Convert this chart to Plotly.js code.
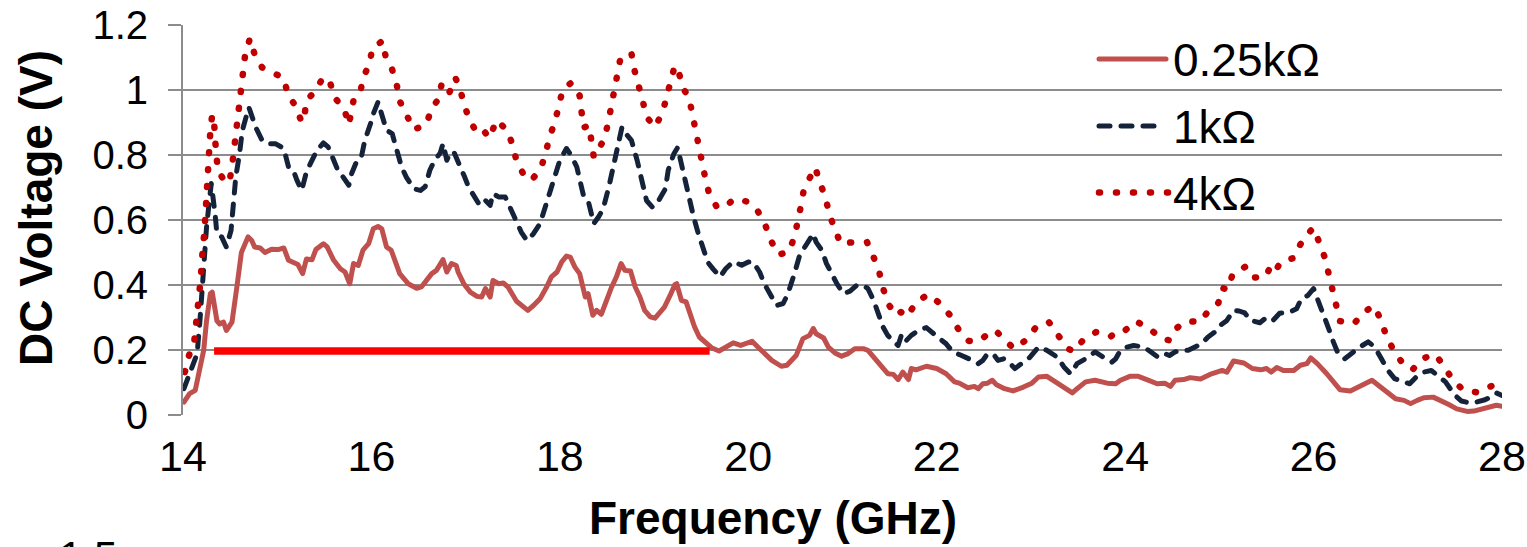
<!DOCTYPE html>
<html>
<head>
<meta charset="utf-8">
<script src="https://cdn.plot.ly/plotly-3.0.1.min.js"></script>
<style>
  html, body { margin: 0; padding: 0; background: #fff; }
  #chart { width: 1527px; height: 547px; }
  .scatterlayer .trace .js-line { stroke-linejoin: round; }
  .scatterlayer .trace:nth-child(-n+3) .js-line { stroke-linecap: round; }
  .shapelayer path { stroke-linecap: round; }
</style>
</head>
<body>
<div id="chart"></div>
<script>
// ---------- data ----------
const seriesNames = ["0.25kΩ", "1kΩ", "4kΩ"];

const freq025 = [14.01,14.07,14.13,14.22,14.25,14.29,14.31,14.36,14.39,14.43,14.46,14.52,14.57,14.62,14.69,14.73,14.76,14.82,14.87,14.94,15.01,15.07,15.12,15.17,15.22,15.27,15.31,15.37,15.41,15.49,15.53,15.60,15.67,15.72,15.77,15.81,15.86,15.91,15.97,16.02,16.07,16.11,16.16,16.21,16.30,16.39,16.48,16.53,16.57,16.64,16.69,16.76,16.80,16.85,16.90,16.92,16.98,17.05,17.12,17.17,17.21,17.26,17.29,17.35,17.40,17.45,17.54,17.60,17.66,17.72,17.79,17.86,17.91,17.97,18.02,18.07,18.11,18.16,18.21,18.27,18.30,18.35,18.39,18.44,18.50,18.55,18.60,18.65,18.69,18.75,18.80,18.85,18.90,18.96,19.01,19.06,19.11,19.17,19.22,19.24,19.29,19.34,19.38,19.43,19.48,19.54,19.61,19.69,19.76,19.84,19.92,20.04,20.12,20.25,20.35,20.41,20.51,20.58,20.65,20.69,20.72,20.80,20.85,20.92,20.99,21.06,21.13,21.22,21.27,21.36,21.43,21.48,21.54,21.59,21.64,21.70,21.73,21.78,21.89,22.00,22.10,22.19,22.24,22.33,22.40,22.44,22.49,22.54,22.59,22.63,22.72,22.81,22.92,23.01,23.08,23.17,23.26,23.35,23.44,23.49,23.58,23.68,23.81,23.90,23.95,24.05,24.14,24.23,24.34,24.42,24.48,24.53,24.62,24.69,24.80,24.90,24.97,25.03,25.08,25.15,25.26,25.35,25.44,25.50,25.55,25.61,25.68,25.79,25.86,25.93,25.97,26.04,26.14,26.23,26.28,26.39,26.48,26.55,26.62,26.69,26.78,26.87,26.96,27.03,27.10,27.17,27.27,27.34,27.43,27.52,27.63,27.70,27.80,27.89,27.94,28.00];
const volt025 = [0.040,0.066,0.076,0.200,0.290,0.373,0.378,0.290,0.280,0.286,0.260,0.286,0.390,0.500,0.548,0.537,0.517,0.514,0.500,0.510,0.509,0.514,0.476,0.468,0.463,0.435,0.480,0.478,0.509,0.527,0.517,0.476,0.450,0.440,0.404,0.466,0.460,0.507,0.527,0.573,0.580,0.573,0.517,0.507,0.435,0.404,0.390,0.394,0.409,0.435,0.445,0.478,0.440,0.466,0.460,0.440,0.404,0.378,0.365,0.363,0.389,0.363,0.414,0.404,0.406,0.394,0.350,0.337,0.322,0.337,0.358,0.394,0.425,0.440,0.471,0.489,0.486,0.455,0.435,0.363,0.373,0.307,0.322,0.310,0.358,0.394,0.425,0.466,0.445,0.443,0.394,0.363,0.322,0.302,0.298,0.317,0.332,0.368,0.401,0.404,0.353,0.348,0.312,0.271,0.240,0.225,0.207,0.197,0.209,0.222,0.214,0.227,0.204,0.168,0.150,0.153,0.184,0.235,0.245,0.266,0.250,0.237,0.209,0.191,0.181,0.189,0.204,0.204,0.199,0.168,0.143,0.127,0.125,0.109,0.132,0.109,0.143,0.139,0.150,0.143,0.127,0.102,0.098,0.084,0.088,0.081,0.096,0.098,0.107,0.094,0.081,0.074,0.086,0.098,0.117,0.119,0.102,0.084,0.068,0.081,0.102,0.107,0.098,0.096,0.107,0.119,0.119,0.109,0.096,0.098,0.088,0.107,0.109,0.115,0.111,0.125,0.132,0.137,0.132,0.166,0.160,0.143,0.139,0.143,0.132,0.146,0.137,0.137,0.153,0.158,0.176,0.158,0.127,0.096,0.078,0.074,0.088,0.096,0.107,0.091,0.071,0.050,0.045,0.035,0.045,0.053,0.055,0.047,0.033,0.019,0.011,0.012,0.019,0.025,0.030,0.027];

const freq1k = [14.01,14.06,14.15,14.18,14.20,14.23,14.25,14.28,14.30,14.34,14.36,14.41,14.46,14.51,14.53,14.56,14.60,14.63,14.67,14.70,14.74,14.77,14.84,14.89,14.98,15.07,15.12,15.17,15.21,15.26,15.31,15.37,15.42,15.49,15.54,15.60,15.65,15.70,15.76,15.79,15.84,15.89,15.93,15.99,16.02,16.07,16.12,16.16,16.22,16.27,16.32,16.37,16.45,16.52,16.57,16.62,16.67,16.73,16.76,16.80,16.84,16.88,16.93,16.99,17.03,17.08,17.15,17.21,17.26,17.29,17.35,17.42,17.47,17.52,17.59,17.65,17.72,17.79,17.86,17.93,18.00,18.07,18.12,18.18,18.21,18.25,18.30,18.34,18.36,18.41,18.46,18.52,18.57,18.62,18.66,18.70,18.76,18.82,18.87,18.92,18.98,19.02,19.07,19.12,19.15,19.21,19.25,19.28,19.33,19.37,19.42,19.47,19.52,19.57,19.63,19.70,19.76,19.84,19.93,20.00,20.05,20.12,20.17,20.25,20.30,20.37,20.42,20.49,20.54,20.60,20.65,20.69,20.72,20.78,20.83,20.88,20.94,21.01,21.08,21.15,21.22,21.27,21.33,21.38,21.43,21.48,21.54,21.59,21.63,21.68,21.73,21.82,21.89,21.96,22.03,22.10,22.17,22.24,22.31,22.38,22.44,22.49,22.54,22.61,22.65,22.71,22.78,22.83,22.90,22.99,23.08,23.17,23.28,23.35,23.42,23.49,23.58,23.68,23.77,23.86,23.90,23.95,24.02,24.09,24.20,24.28,24.35,24.42,24.47,24.53,24.60,24.67,24.74,24.81,24.88,24.95,25.01,25.08,25.15,25.21,25.27,25.33,25.43,25.50,25.57,25.64,25.75,25.82,25.87,25.94,26.00,26.05,26.10,26.16,26.21,26.26,26.33,26.42,26.49,26.58,26.65,26.72,26.79,26.86,26.95,27.02,27.09,27.17,27.25,27.32,27.40,27.45,27.50,27.57,27.66,27.73,27.82,27.89,27.94,28.00];
const volt1k = [0.081,0.117,0.189,0.291,0.384,0.476,0.578,0.660,0.712,0.620,0.558,0.548,0.517,0.568,0.650,0.732,0.804,0.876,0.917,0.946,0.912,0.886,0.845,0.835,0.835,0.820,0.763,0.753,0.722,0.691,0.748,0.784,0.814,0.837,0.825,0.784,0.748,0.732,0.707,0.743,0.778,0.789,0.845,0.896,0.927,0.963,0.907,0.876,0.866,0.809,0.763,0.732,0.696,0.691,0.702,0.753,0.784,0.806,0.835,0.784,0.810,0.806,0.775,0.732,0.702,0.676,0.645,0.660,0.645,0.681,0.671,0.671,0.640,0.604,0.563,0.537,0.558,0.589,0.650,0.712,0.784,0.820,0.799,0.763,0.722,0.676,0.660,0.609,0.589,0.609,0.635,0.702,0.773,0.845,0.886,0.866,0.845,0.784,0.722,0.660,0.640,0.645,0.671,0.696,0.753,0.804,0.823,0.784,0.732,0.681,0.609,0.558,0.507,0.470,0.448,0.425,0.450,0.472,0.461,0.471,0.471,0.440,0.404,0.363,0.337,0.343,0.373,0.435,0.486,0.517,0.537,0.558,0.532,0.507,0.466,0.435,0.404,0.373,0.381,0.399,0.399,0.389,0.353,0.312,0.271,0.245,0.225,0.214,0.250,0.230,0.245,0.263,0.269,0.250,0.235,0.219,0.194,0.186,0.178,0.168,0.158,0.168,0.189,0.184,0.168,0.173,0.158,0.143,0.158,0.178,0.209,0.199,0.178,0.148,0.127,0.158,0.173,0.194,0.178,0.163,0.173,0.199,0.209,0.214,0.209,0.194,0.178,0.189,0.183,0.194,0.199,0.199,0.209,0.219,0.240,0.255,0.276,0.291,0.322,0.320,0.314,0.291,0.284,0.300,0.291,0.313,0.317,0.327,0.358,0.368,0.389,0.353,0.312,0.266,0.225,0.189,0.173,0.194,0.209,0.225,0.209,0.173,0.137,0.112,0.102,0.096,0.117,0.132,0.137,0.122,0.102,0.081,0.061,0.043,0.037,0.040,0.047,0.057,0.068,0.060];

const freq4k = [14.02,14.06,14.12,14.14,14.16,14.18,14.19,14.20,14.22,14.23,14.24,14.25,14.255,14.26,14.28,14.29,14.31,14.33,14.34,14.36,14.37,14.44,14.49,14.52,14.54,14.55,14.57,14.59,14.61,14.63,14.66,14.71,14.76,14.84,14.93,15.07,15.11,15.20,15.26,15.29,15.31,15.40,15.49,15.56,15.61,15.71,15.76,15.78,15.81,15.88,15.91,15.98,16.01,16.12,16.15,16.22,16.27,16.30,16.37,16.45,16.58,16.64,16.71,16.75,16.79,16.83,16.89,16.94,16.98,17.04,17.12,17.19,17.25,17.28,17.33,17.44,17.50,17.54,17.62,17.70,17.80,17.85,17.89,17.95,17.99,18.03,18.12,18.21,18.23,18.25,18.31,18.33,18.36,18.42,18.47,18.51,18.54,18.58,18.61,18.64,18.68,18.76,18.79,18.84,18.88,18.92,19.01,19.09,19.13,19.17,19.22,19.27,19.31,19.37,19.40,19.43,19.46,19.50,19.54,19.58,19.66,19.74,19.85,20.00,20.10,20.18,20.24,20.32,20.43,20.49,20.53,20.56,20.59,20.67,20.71,20.76,20.82,20.86,20.92,20.98,21.12,21.26,21.33,21.39,21.43,21.48,21.57,21.62,21.68,21.72,21.79,21.91,22.04,22.15,22.23,22.34,22.45,22.54,22.62,22.71,22.82,22.96,23.06,23.19,23.29,23.39,23.46,23.56,23.69,23.84,23.92,23.99,24.11,24.26,24.38,24.47,24.54,24.65,24.79,24.89,24.99,25.03,25.09,25.14,25.28,25.36,25.49,25.54,25.59,25.65,25.79,25.86,25.94,26.00,26.06,26.12,26.16,26.20,26.24,26.28,26.43,26.53,26.64,26.72,26.77,26.85,26.94,27.05,27.15,27.29,27.39,27.47,27.59,27.75,27.90,28.00];
const volt4k = [0.132,0.180,0.228,0.276,0.325,0.375,0.425,0.476,0.525,0.575,0.625,0.676,0.724,0.773,0.825,0.874,0.924,0.902,0.850,0.801,0.750,0.722,0.714,0.763,0.812,0.862,0.912,0.962,1.011,1.060,1.110,1.158,1.110,1.069,1.057,1.037,0.989,0.948,0.900,0.922,0.968,0.995,1.040,1.024,0.976,0.943,0.893,0.919,0.968,0.989,1.037,1.081,1.130,1.151,1.104,1.063,1.014,0.966,0.919,0.878,0.893,0.943,0.972,1.024,1.016,0.994,1.038,1.006,0.958,0.909,0.868,0.876,0.852,0.878,0.907,0.876,0.830,0.782,0.737,0.722,0.760,0.807,0.855,0.904,0.951,1.001,1.022,0.983,0.934,0.884,0.891,0.843,0.794,0.823,0.848,0.896,0.946,0.996,1.044,1.093,1.109,1.112,1.063,1.014,0.966,0.917,0.886,0.931,0.978,1.028,1.075,1.046,1.004,0.978,0.931,0.881,0.832,0.783,0.734,0.686,0.643,0.637,0.665,0.656,0.628,0.585,0.537,0.493,0.502,0.548,0.596,0.645,0.694,0.737,0.762,0.715,0.669,0.617,0.572,0.527,0.532,0.532,0.486,0.440,0.391,0.344,0.306,0.317,0.302,0.317,0.349,0.371,0.342,0.304,0.264,0.228,0.227,0.249,0.261,0.235,0.204,0.233,0.273,0.286,0.245,0.204,0.196,0.233,0.255,0.240,0.258,0.258,0.289,0.266,0.235,0.230,0.266,0.289,0.286,0.322,0.345,0.391,0.386,0.433,0.457,0.423,0.425,0.455,0.440,0.471,0.483,0.525,0.558,0.576,0.531,0.484,0.435,0.387,0.337,0.289,0.281,0.316,0.336,0.290,0.244,0.199,0.161,0.139,0.173,0.187,0.148,0.111,0.076,0.069,0.091,0.085];

// highlighted band (red bar)
const bandFreq = [14.33, 19.59];
const bandVolt = [0.197, 0.197];

const xTickVals = [14, 16, 18, 20, 22, 24, 26, 28];
const xTickText = ["14", "16", "18", "20", "22", "24", "26", "28"];
const yTickVals = [0, 0.2, 0.4, 0.6, 0.8, 1.0, 1.2];
const yTickText = ["0", "0.2", "0.4", "0.6", "0.8", "1", "1.2"];

const xTitle = "Frequency (GHz)";
const yTitle = "DC Voltage (V)";
const strayLabel = "1.5";

// ---------- styling ----------
const FONT = "Liberation Sans, Arial, sans-serif";
const C025 = "#C0504D", C1K = "#15233A", C4K = "#C00000", GRID = "#8C8C8C";
const DASH1K = "11px,11px", DOT4K = "1px,16px";

const traces = [
  {x: freq025, y: volt025, name: seriesNames[0], mode: "lines", line: {color: C025, width: 5}},
  {x: freq1k, y: volt1k, name: seriesNames[1], mode: "lines", line: {color: C1K, width: 5, dash: DASH1K}},
  {x: freq4k, y: volt4k, name: seriesNames[2], mode: "lines", line: {color: C4K, width: 6.5, dash: DOT4K}},
  {x: bandFreq, y: bandVolt, mode: "lines", line: {color: "#FF0000", width: 7.5}, showlegend: false}
];

// plot area in pixels: x 183..1502, y 25..415
const px = v => (v - 183) / 1319;
const py = v => (415 - v) / 390;

const legendRows = [59, 126, 192.5];
const legendStyles = [
  {color: C025, width: 5, dash: "solid"},
  {color: C1K, width: 5, dash: DASH1K},
  {color: C4K, width: 6.5, dash: DOT4K}
];
const legendEnds = [1166, 1160, 1168];

const shapes = legendRows.map((r, i) => ({
  type: "line", xref: "paper", yref: "paper",
  x0: px(1099), x1: px(legendEnds[i]), y0: py(r), y1: py(r),
  line: legendStyles[i]
}));

const annotations = legendRows.map((r, i) => ({
  xref: "paper", yref: "paper", x: px(1171), y: py(r + 1),
  xanchor: "left", yanchor: "middle", showarrow: false,
  text: seriesNames[i], font: {family: FONT, size: 46, color: "#000"}
}));
annotations.push({
  xref: "paper", yref: "paper", x: px(773), y: py(518), xanchor: "center", yanchor: "middle",
  showarrow: false, text: "<b>" + xTitle + "</b>", font: {family: FONT, size: 46, color: "#000"}
});
annotations.push({
  xref: "paper", yref: "paper", x: px(36), y: py(208), xanchor: "center", yanchor: "middle",
  showarrow: false, textangle: -90, text: "<b>" + yTitle + "</b>", font: {family: FONT, size: 46, color: "#000"}
});
annotations.push({
  xref: "paper", yref: "paper", x: px(88), y: py(556), xanchor: "center", yanchor: "middle",
  showarrow: false, text: strayLabel, font: {family: FONT, size: 42, color: "#000"}
});

const layout = {
  width: 1527, height: 547,
  margin: {l: 183, r: 25, t: 25, b: 132, pad: 0},
  paper_bgcolor: "#fff", plot_bgcolor: "#fff",
  showlegend: false,
  font: {family: FONT, color: "#000"},
  xaxis: {
    range: [14, 28], tickmode: "array", tickvals: xTickVals, ticktext: xTickText,
    showgrid: false, zeroline: false, showline: false, ticks: "",
    tickfont: {family: FONT, size: 43, color: "#000"}, ticklabelstandoff: 12
  },
  yaxis: {
    range: [0, 1.2], tickmode: "array", tickvals: yTickVals, ticktext: yTickText,
    showgrid: true, gridcolor: GRID, gridwidth: 2, zeroline: false,
    showline: true, linecolor: GRID, linewidth: 2,
    ticks: "outside", ticklen: 13, tickwidth: 2, tickcolor: GRID,
    tickfont: {family: FONT, size: 40, color: "#000"}, ticklabelstandoff: 12
  },
  shapes: shapes,
  annotations: annotations
};

Plotly.newPlot("chart", traces, layout, {displayModeBar: false, staticPlot: true});
</script>
</body>
</html>
